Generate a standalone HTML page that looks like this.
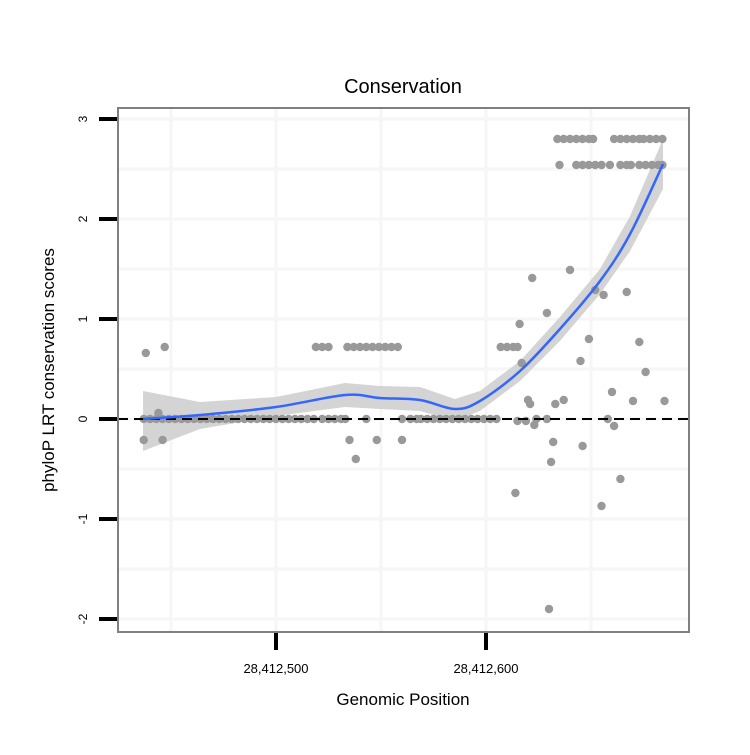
<!DOCTYPE html>
<html><head><meta charset="utf-8"><style>
body{margin:0;background:#fff;}
svg text{font-family:"Liberation Sans",Arial,sans-serif;}
</style></head><body>
<svg id="chart" width="750" height="750" xmlns="http://www.w3.org/2000/svg"></svg>
<script>
// Data
const xTicks = [28412500, 28412600];
const xTickLabels = ["28,412,500", "28,412,600"];
const yTicks = [-2, -1, 0, 1, 2, 3];
const yTickLabels = ["-2", "-1", "0", "1", "2", "3"];
const pointX = [
28412437,28412440,28412443,28412446,28412449,28412452,28412455,28412458,28412461,28412464,28412467,28412470,28412473,28412476,28412479,28412482,28412485,28412488,28412491,28412494,28412497,28412500,28412503,28412506,28412509,28412512,28412515,28412518,
28412522,28412525,28412528,28412531,28412533,28412543,28412560,28412564,28412567,
28412569,28412572,28412575,28412578,28412581,28412584,28412587,28412590,28412593,28412596,28412599,28412602,28412605,
28412615,28412619,28412623,28412624,28412629,28412658,28412661,
28412519,28412522,28412525,28412534,28412537,28412540,28412543,28412546,28412549,28412552,28412555,28412558,
28412607,28412610,28412613,28412615,
28412437,28412438,28412447,28412444,28412446,28412535,28412548,28412560,28412538,
28412622,28412640,28412629,28412616,28412652,28412656,28412667,28412649,28412673,28412645,28412676,28412660,28412670,28412685,28412620,28412621,28412633,28412637,28412617,28412632,28412646,28412631,28412614,28412664,28412655,28412630,
28412634,28412637,28412640,28412643,28412646,28412649,28412651,28412661,28412664,28412667,28412670,28412673,28412675,28412678,28412681,28412684,
28412635,28412643,28412646,28412649,28412652,28412655,28412659,28412664,28412667,28412669,28412673,28412676,28412679,28412682,28412684
];
const pointY = [
0,0,0,0,0,0,0,0,0,0,0,0,0,0,0,0,0,0,0,0,0,0,0,0,0,0,0,0,
0,0,0,0,0,0,0,0,0,
0,0,0,0,0,0,0,0,0,0,0,0,0,
-0.02,-0.02,-0.06,0,0,0,-0.07,
0.72,0.72,0.72,0.72,0.72,0.72,0.72,0.72,0.72,0.72,0.72,0.72,
0.72,0.72,0.72,0.72,
-0.21,0.66,0.72,0.06,-0.21,-0.21,-0.21,-0.21,-0.4,
1.41,1.49,1.06,0.95,1.29,1.24,1.27,0.80,0.77,0.58,0.47,0.27,0.18,0.18,0.19,0.15,0.15,0.19,0.56,-0.23,-0.27,-0.43,-0.74,-0.6,-0.87,-1.9,
2.8,2.8,2.8,2.8,2.8,2.8,2.8,2.8,2.8,2.8,2.8,2.8,2.8,2.8,2.8,2.8,
2.54,2.54,2.54,2.54,2.54,2.54,2.54,2.54,2.54,2.54,2.54,2.54,2.54,2.54,2.54
];
const smoothX = [28412436.7,28412463.8,28412500,28412532.9,28412549.5,28412568.6,28412585.2,28412597.1,28412616.2,28412635.2,28412654.3,28412668.6,28412684.3];
const smoothY = [0.0,0.04,0.12,0.24,0.21,0.19,0.10,0.18,0.48,0.90,1.38,1.85,2.55];
const smoothLo = [-0.32,-0.10,0.03,0.12,0.10,0.08,-0.02,0.08,0.38,0.78,1.25,1.68,2.30];
const smoothHi = [0.28,0.17,0.22,0.36,0.33,0.32,0.20,0.28,0.58,1.02,1.50,2.03,2.80];

const svg = document.getElementById('chart');
const NS = 'http://www.w3.org/2000/svg';
const L = 118, R = 689, T = 108, B = 632;
function sx(v){ return 276 + (v - 28412500) * 2.1; }
function sy(v){ return 419 - v * 100; }
function mk(tag, attrs, parent){ const e = document.createElementNS(NS, tag); for (const k in attrs) e.setAttribute(k, attrs[k]); (parent||svg).appendChild(e); return e; }

const title = mk('text', {x:403, y:93, 'text-anchor':'middle', 'font-size':20, fill:'#000'});
title.textContent = 'Conservation';



const grid = mk('g', {});


for (let v = -2; v <= 3; v += 0.5) {
  mk('line', {x1:L, x2:R, y1:sy(v), y2:sy(v), stroke:'#f6f6f6', 'stroke-width': 3}, grid);
}
for (let b = 28412450; b <= 28412650; b += 50) {
  mk('line', {x1:sx(b), x2:sx(b), y1:T, y2:B, stroke:'#f6f6f6', 'stroke-width': 3}, grid);
}

// ribbon
let d = '';
smoothX.forEach((x, i) => { d += (i ? 'L' : 'M') + sx(x) + ',' + sy(smoothHi[i]); });
for (let i = smoothX.length - 1; i >= 0; i--) d += 'L' + sx(smoothX[i]) + ',' + sy(smoothLo[i]);
const rib = mk('path', {d: d + 'Z', fill:'#d4d4d4'});



const pts = mk('g', {fill:'#999999'});


pointX.forEach((x, i) => {
  const c = mk('circle', {cx: sx(x), cy: sy(pointY[i]), r: 4.2}, pts);
  
  
});

const zl = mk('line', {x1:L, x2:R, y1:sy(0), y2:sy(0), stroke:'#000', 'stroke-width':2, 'stroke-dasharray':'10,6'});



// smooth line via catmull-rom
const P = smoothX.map((x, i) => [sx(x), sy(smoothY[i])]);
let ld = 'M' + P[0][0] + ',' + P[0][1];
for (let i = 0; i < P.length - 1; i++) {
  const p0 = P[i-1] || P[i], p1 = P[i], p2 = P[i+1], p3 = P[i+2] || P[i+1];
  ld += 'C' + (p1[0] + (p2[0]-p0[0])/6) + ',' + (p1[1] + (p2[1]-p0[1])/6) + ' ' + (p2[0] - (p3[0]-p1[0])/6) + ',' + (p2[1] - (p3[1]-p1[1])/6) + ' ' + p2[0] + ',' + p2[1];
}
const sl = mk('path', {d: ld, fill:'none', stroke:'#3366FF', 'stroke-width':2.5});



const frame = mk('rect', {x:L, y:T, width:R-L, height:B-T, fill:'none', stroke:'#808080', 'stroke-width':2});



const yax = mk('g', {});


yTicks.forEach((v, i) => {
  mk('line', {x1:99, x2:117, y1:sy(v), y2:sy(v), stroke:'#000', 'stroke-width':4}, yax);
  const t = mk('text', {x:0, y:0, 'text-anchor':'middle', 'font-size':12, transform:'translate(87,' + sy(v) + ') rotate(-90)'}, yax);
  t.textContent = yTickLabels[i];
  
  
});
const xax = mk('g', {});


xTicks.forEach((v, i) => {
  mk('line', {x1:sx(v), x2:sx(v), y1:633, y2:650, stroke:'#000', 'stroke-width':4}, xax);
  const t = mk('text', {x:sx(v), y:673, 'text-anchor':'middle', 'font-size':13}, xax);
  t.textContent = xTickLabels[i];
  
  
});
const xt = mk('text', {x:403, y:705, 'text-anchor':'middle', 'font-size':17});
xt.textContent = 'Genomic Position';


const yt = mk('text', {x:0, y:0, 'text-anchor':'middle', 'font-size':17, transform:'translate(54,370) rotate(-90)'});
yt.textContent = 'phyloP LRT conservation scores';


</script>
</body></html>
